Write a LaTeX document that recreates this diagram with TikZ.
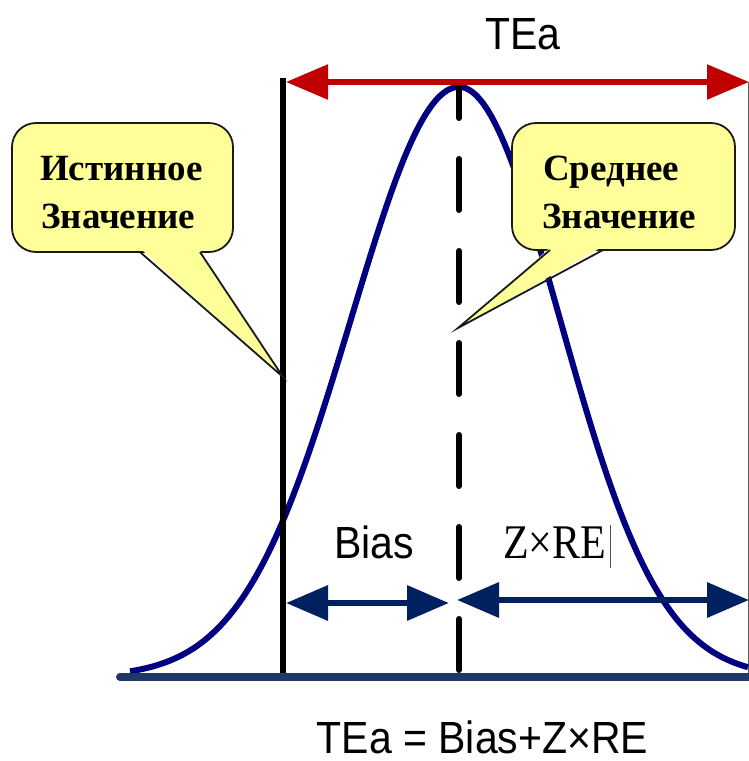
\documentclass[tikz,border=0pt]{standalone}
\usepackage{fontspec}
\usepackage{graphicx}
\setmainfont{Liberation Serif}
\newfontfamily\arialf{Liberation Sans}
\usetikzlibrary{arrows.meta}
\definecolor{tred}{HTML}{C00000}
\definecolor{curvenavy}{HTML}{000080}
\definecolor{arrownavy}{HTML}{002060}
\definecolor{basenavy}{HTML}{1F3864}
\definecolor{callfill}{HTML}{FFFF99}
\definecolor{callline}{HTML}{1A1A1A}
\tikzset{
  bigtip/.tip={Triangle[length=42pt,width=34pt]},
  redarrow/.style={draw=tred,line width=5.5pt,{bigtip}-{bigtip}},
  navyarrow/.style={draw=arrownavy,line width=6.5pt,{bigtip}-{bigtip}},
  callbox/.style={draw=callline,line width=1.8pt,fill=callfill,rounded corners=24pt,inner sep=0pt},
  calltail/.style={fill=callfill},
  calledge/.style={draw=callline,line width=1.8pt,line join=miter},
  calltext/.style={anchor=base west,inner sep=0pt,font=\fontsize{37}{37}\selectfont\bfseries},
  sanslabel/.style={inner sep=0pt,font=\arialf\fontsize{41}{41}\selectfont},
}
\begin{document}
\begin{tikzpicture}[x=1pt,y=-1pt]
\useasboundingbox (0,0) rectangle (749,761);
% coordinates
\coordinate (baseL) at (120,677);
\coordinate (baseR) at (749,677);
\coordinate (trueTop) at (283,78);
\coordinate (trueBot) at (283,677);
\coordinate (meanTop) at (459,87);
\coordinate (meanBot) at (459,677);
\coordinate (edgeTop) at (748,82);
\coordinate (edgeBot) at (748,677);
\coordinate (teaL) at (286,82);
\coordinate (teaR) at (749,82);
\coordinate (biasL) at (286,603);
\coordinate (biasR) at (449,603);
\coordinate (zreL) at (457,600);
\coordinate (zreR) at (749,600);
\coordinate (tipA) at (283,377);
\coordinate (tipB) at (458,328);
% slide edge
\draw[gray!70!black,line width=1pt] (edgeTop) -- (edgeBot);
% bell curve
\draw[curvenavy,line width=6pt,line join=round]
  plot[domain=130:459,samples=90,smooth] (\x,{677-590*exp(-0.5*((\x-459)/108)^2)})
  -- plot[domain=459:748,samples=90,smooth] (\x,{677-590*exp(-0.5*((\x-459)/101)^2)});
% verticals
\draw[black,line width=6.5pt] (trueTop) -- (trueBot);
\draw[black,line width=6pt,line cap=round,dash pattern=on 51pt off 41pt,dash phase=20pt] (meanTop) -- (meanBot);
% baseline
\draw[basenavy,line width=8pt,line cap=round] (baseL) -- (baseR);
% arrows
\draw[redarrow] (teaL) -- (teaR);
\draw[navyarrow] (biasL) -- (biasR);
\draw[navyarrow] (zreL) -- (zreR);
% left callout
\node[callbox,minimum width=221pt,minimum height=129pt] (boxA) at (122.5,187.5) {};
\fill[calltail] (141,249) -- (tipA) -- (199,249) -- cycle;
\draw[calledge] (140,252) -- (tipA) -- (200,252);
\node[calltext] (tA1) at (40,180) {Истинное};
\node[calltext] (tA2) at (41,228) {Значение};
% right callout
\node[callbox,minimum width=223pt,minimum height=127pt] (boxB) at (623.5,186.5) {};
\fill[calltail] (551,247) -- (tipB) -- (602,247) -- cycle;
\draw[calledge] (550,250) -- (tipB) -- (603,250);
\node[calltext] (tB1) at (543,180) {Среднее};
\node[calltext] (tB2) at (542,228) {Значение};
% labels
\node[sanslabel,anchor=base] (tea) at (523,49) {\scalebox{1}[1.1]{TEa}};
\node[sanslabel,anchor=base] (bias) at (374,558) {\scalebox{1}[1.1]{Bias}};
\node[anchor=base west,inner sep=0pt,font=\fontsize{42}{42}\selectfont] (zre) at (503,558) {\scalebox{1}[1.15]{Z\texttimes RE}};
\coordinate (curTop) at (610,525);
\coordinate (curBot) at (610,568);
\draw[gray!60!black,line width=0.9pt] (curTop) -- (curBot);
\node[sanslabel,anchor=base] (formula) at (482.5,753) {\scalebox{1}[1.1]{TEa = Bias+Z\texttimes RE}};
\end{tikzpicture}
\end{document}
